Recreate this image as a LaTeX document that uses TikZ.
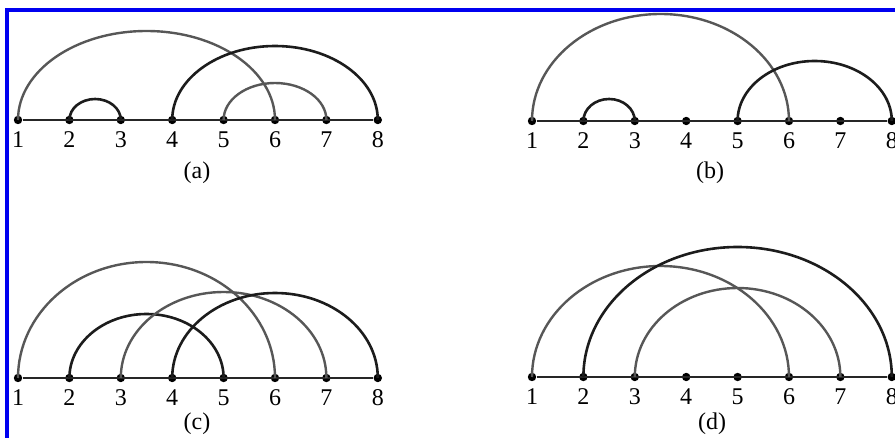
\documentclass[tikz,border=0pt]{standalone}
\usepackage{fontspec}
\setmainfont{Liberation Serif}
\usepackage{tikz}
\usepackage{xcolor}
\usetikzlibrary{calc}

\definecolor{arcgray}{HTML}{575757}
\definecolor{arcdark}{HTML}{1C1C1C}
\definecolor{framebl}{HTML}{0000F0}

\tikzset{
  dot/.style={circle, fill=black, inner sep=0pt, minimum size=4.2pt},
  lbl/.style={inner sep=0pt, label distance=3.2pt},
  axis/.style={line width=1pt, draw=black!85},
  blk/.style={line width=1.3pt, draw=arcdark},
  gry/.style={line width=1.2pt, draw=arcgray}
}

% arc over the line from node #2 to node #3, height #4 (px)
\newcommand{\bow}[4][blk]{%
  \draw[#1] let \p1=(#2), \p2=(#3) in (\p1)
    arc[start angle=180, end angle=0, x radius={(\x2-\x1)/2}, y radius={#4*0.5pt}];}

\begin{document}
\begin{tikzpicture}[x=0.5pt, y=-0.5pt, font=\fontsize{12}{14}\selectfont]
  \useasboundingbox (0,0) rectangle (895,438);
  \draw[framebl, line width=1.6pt] (7,438) -- (7,10) -- (895,10);

  \foreach \p/\x/\y in {a/18/120, b/532/121, c/18/378, d/532/377} {
    \foreach \i in {1,...,8}
      \node[dot, label={[lbl]below:\i}] (\p\i) at ({\x+(\i-1)*51.4},\y) {};
    \draw[axis] (\p1) -- (\p8);
  }

  % (a)
  \bow[gry]{a1}{a6}{89}
  \bow{a2}{a3}{21}
  \bow{a4}{a8}{74}
  \bow[gry]{a5}{a7}{37}
  % (b)
  \bow[gry]{b1}{b6}{107}
  \bow{b2}{b3}{22}
  \bow{b5}{b8}{60}
  % (c)
  \bow[gry]{c1}{c6}{116}
  \bow{c2}{c5}{64}
  \bow[gry]{c3}{c7}{86}
  \bow{c4}{c8}{85}
  % (d)
  \bow[gry]{d1}{d6}{111}
  \bow{d2}{d8}{130}
  \bow[gry]{d3}{d7}{89}

  \node (capa) at (197,173) {(a)};
  \node (capb) at (710,173) {(b)};
  \node (capc) at (197,424) {(c)};
  \node (capd) at (712,424) {(d)};
\end{tikzpicture}
\end{document}
